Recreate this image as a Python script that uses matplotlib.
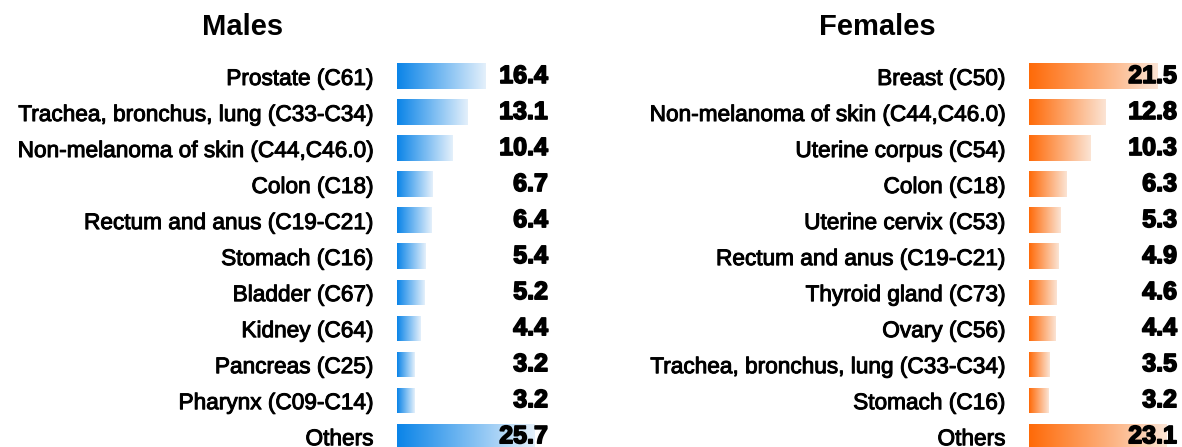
import numpy as np
import matplotlib
matplotlib.use("Agg")
import matplotlib.pyplot as plt
import matplotlib.patheffects as pe
from matplotlib.colors import LinearSegmentedColormap

plt.rcParams['font.family'] = ['Liberation Sans', 'DejaVu Sans']

males_sites = ["Prostate (C61)", "Trachea, bronchus, lung (C33-C34)",
               "Non-melanoma of skin (C44,C46.0)", "Colon (C18)",
               "Rectum and anus (C19-C21)", "Stomach (C16)", "Bladder (C67)",
               "Kidney (C64)", "Pancreas (C25)", "Pharynx (C09-C14)", "Others"]
males_vals = [16.4, 13.1, 10.4, 6.7, 6.4, 5.4, 5.2, 4.4, 3.2, 3.2, 25.7]

females_sites = ["Breast (C50)", "Non-melanoma of skin (C44,C46.0)",
                 "Uterine corpus (C54)", "Colon (C18)", "Uterine cervix (C53)",
                 "Rectum and anus (C19-C21)", "Thyroid gland (C73)",
                 "Ovary (C56)", "Trachea, bronchus, lung (C33-C34)",
                 "Stomach (C16)", "Others"]
females_vals = [21.5, 12.8, 10.3, 6.3, 5.3, 4.9, 4.6, 4.4, 3.5, 3.2, 23.1]

W, H = 1182, 447
fig = plt.figure(figsize=(W / 100, H / 100), dpi=100)

grad = np.linspace(0, 1, 256).reshape(1, -1)
heavy = [pe.withStroke(linewidth=0.7, foreground='black')]
heavier = [pe.withStroke(linewidth=1.2, foreground='black')]


def panel(left_px, right_px, bar_max_px, sites, vals, c0, c1, title, title_x):
    ax = fig.add_axes([left_px / W, 0, (right_px - left_px) / W, 389 / H])
    xmax = max(vals) * (right_px - left_px) / bar_max_px
    cmap = LinearSegmentedColormap.from_list('g', [c0, c1])
    y = np.arange(len(vals))
    bars = ax.barh(y, vals, height=0.7, color='none', edgecolor='none')
    for b, v, yy in zip(bars, vals, y):
        im = ax.imshow(grad, cmap=cmap, aspect='auto',
                       extent=(0, v, yy + 0.35, yy - 0.35), zorder=1)
        im.set_clip_path(b)
        ax.text(xmax, yy, f"{v:.1f}", ha='right', va='center',
                fontsize=18, fontweight='bold', zorder=3,
                path_effects=heavier)
    ax.set_xlim(0, xmax)
    ax.set_ylim(10.3, -0.5)
    ax.set_yticks(y)
    ax.set_yticklabels(sites, fontsize=16.3)
    for t in ax.get_yticklabels():
        t.set_path_effects(heavy)
    ax.tick_params(axis='y', length=0, pad=17)
    ax.set_xticks([])
    for s in ax.spines.values():
        s.set_visible(False)
    fig.text(title_x / W, 1 - 27 / H, title, ha='center', va='center',
             fontsize=21, fontweight='bold')


panel(397, 548, 138, males_sites, males_vals, '#0A84E8', '#E4F0FB',
      'Males', 243)
panel(1029, 1177, 138, females_sites, females_vals, '#FF6A08', '#FBE4D4',
      'Females', 877)

fig.savefig('out.png', dpi=100)
